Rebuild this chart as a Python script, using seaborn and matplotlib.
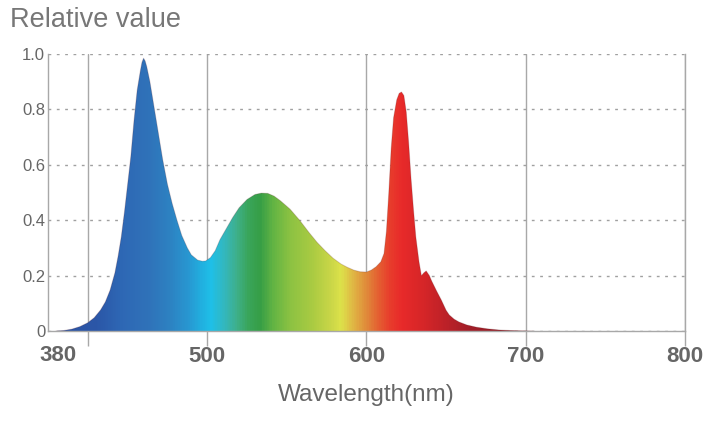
import numpy as np
import matplotlib
matplotlib.use("Agg")
import matplotlib.pyplot as plt
import matplotlib.transforms as mtransforms
from matplotlib.colors import LinearSegmentedColormap
import seaborn as sns

sns.set_theme(style="white")
plt.rcParams['font.family'] = ['Liberation Sans', 'DejaVu Sans']

# spectrum (wavelength in nm, relative value)
wavelength = [405, 410, 415, 420, 425, 429, 433, 436, 439, 442, 444, 446, 448,
              450, 452, 454, 456, 458, 459, 460, 461, 462, 464, 466, 468, 470,
              472, 475, 478, 481, 484, 487.5, 490, 494, 497, 499, 502, 505, 508,
              512, 516, 520, 525, 530, 534, 538, 542, 546, 552, 558, 564, 569,
              574, 579, 584, 588, 592, 596, 600, 603, 606, 609, 611, 612.5, 614,
              615.5, 617, 619, 620.5, 622, 623.5, 625, 626.5, 628, 629.5, 631,
              633, 634.5, 636, 637.5, 639.5, 641, 644, 647, 650, 652, 655, 658,
              663, 669, 676, 683, 690, 697, 705]
rel_value = [0.0, 0.002, 0.007, 0.016, 0.03, 0.048, 0.076, 0.105, 0.148, 0.21,
             0.27, 0.34, 0.43, 0.53, 0.63, 0.76, 0.87, 0.94, 0.97, 0.985, 0.975,
             0.955, 0.9, 0.83, 0.76, 0.69, 0.62, 0.53, 0.46, 0.40, 0.345, 0.30,
             0.275, 0.256, 0.252, 0.253, 0.265, 0.29, 0.33, 0.37, 0.41, 0.445,
             0.475, 0.493, 0.498, 0.497, 0.487, 0.47, 0.44, 0.40, 0.355, 0.32,
             0.29, 0.263, 0.242, 0.23, 0.22, 0.214, 0.213, 0.22, 0.232, 0.25,
             0.28, 0.36, 0.50, 0.66, 0.77, 0.835, 0.858, 0.863, 0.85, 0.79,
             0.68, 0.55, 0.44, 0.34, 0.25, 0.20, 0.21, 0.217, 0.20, 0.18, 0.145,
             0.112, 0.075, 0.058, 0.043, 0.033, 0.022, 0.014, 0.008, 0.004,
             0.002, 0.0008, 0.0]

tick_pos = [500, 600, 700, 800]
tick_labels = ['500', '600', '700', '800']
first_label = '380'
first_label_pos = 406
first_grid = 425
y_ticks = [0, 0.2, 0.4, 0.6, 0.8, 1.0]
y_labels = ['0', '0.2', '0.4', '0.6', '0.8', '1.0']

# spectral colour bands under the curve
stops = [(400, '#2b52a2'), (430, '#2b57a8'), (446, '#2e68b5'), (462, '#3072b9'),
         (476, '#2d82c2'), (488, '#2898d2'), (496, '#21b0e0'), (502, '#1fc0e8'),
         (510, '#33b8c0'), (518, '#3eb08c'), (525, '#3aa65c'), (533, '#369e46'),
         (541, '#62b444'), (552, '#8cc242'), (566, '#aacb42'), (578, '#cbd748'),
         (584, '#dde24a'), (592, '#e0b444'), (600, '#e08a3a'), (607, '#e46232'),
         (615, '#e83c2c'), (622, '#e82a2a'), (636, '#d62628'), (648, '#c02228'),
         (665, '#a21e28'), (690, '#901c24'), (800, '#8a1a22')]
cmap = LinearSegmentedColormap.from_list(
    'spec', [((w - 400) / 400, c) for w, c in stops])

fig = plt.figure(figsize=(7.23, 4.22), dpi=100)
ax = fig.add_axes([0.0664, 0.2156, 0.881, 0.6564])

poly = ax.fill_between(wavelength, rel_value, 0, facecolor='none', edgecolor='none')
grad = np.linspace(400, 800, 1200).reshape(1, -1)
img = ax.imshow(grad, extent=[400, 800, 0, 1], aspect='auto', cmap=cmap,
                vmin=400, vmax=800, origin='lower', zorder=2)
img.set_clip_path(poly.get_paths()[0], transform=ax.transData)
sns.lineplot(x=wavelength, y=rel_value, ax=ax, color='#5a1a20', alpha=0.2,
             linewidth=0.7, zorder=3, estimator=None, sort=False)

ax.set_xlim(400, 800)
ax.set_ylim(0, 1.0)

ax.set_xticks(tick_pos, labels=tick_labels)
ax.set_xticks([first_grid], minor=True)
ax.tick_params(axis='x', which='both', length=11, width=1, color='#a8a8a8',
               direction='out', bottom=True, pad=0, labelsize=16,
               labelcolor='#666666')
for lab in ax.get_xticklabels():
    lab.set_fontweight('bold')
ax.xaxis.grid(True, which='both', color='#a8a8a8', linewidth=1, linestyle='-')
trans = mtransforms.blended_transform_factory(ax.transData, ax.transAxes)
ax.text(first_label_pos, -0.052, first_label, transform=trans, ha='center',
        va='top', fontsize=16, fontweight='bold', color='#666666')

ax.set_yticks(y_ticks, labels=y_labels)
ax.tick_params(axis='y', length=0, pad=2, labelsize=12, labelcolor='#666666')
ax.yaxis.grid(True, color='#a0a0a0', linewidth=1, linestyle=(0, (2, 4)))
ax.set_axisbelow(True)

for side in ['left', 'bottom', 'right']:
    ax.spines[side].set_color('#a8a8a8')
    ax.spines[side].set_linewidth(1)
ax.spines['top'].set_visible(False)

fig.text(0.014, 0.952, 'Relative value', fontsize=19.5, color='#777777',
         ha='left', va='center')
ax.set_xlabel('Wavelength(nm)', fontsize=17.5, color='#666666', labelpad=12)

fig.savefig('out.png', dpi=100, facecolor='white')
